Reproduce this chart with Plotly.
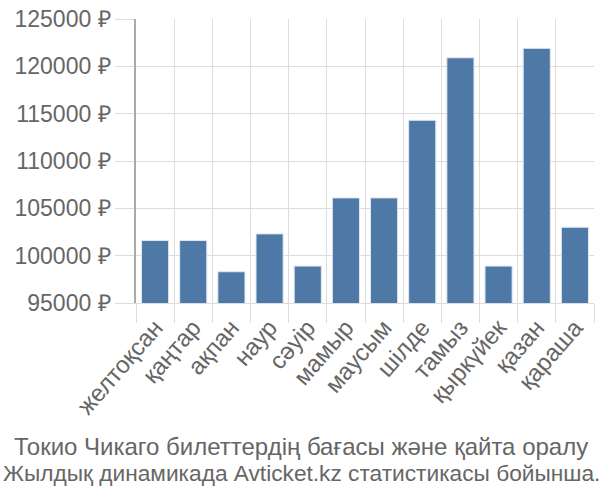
import plotly.graph_objects as go

months = ["желтоқсан", "қаңтар", "ақпан", "наур", "сәуір", "мамыр",
          "маусым", "шілде", "тамыз", "қыркүйек", "қазан", "қараша"]
prices = [101600, 101600, 98300, 102300, 98900, 106100,
          106100, 114300, 120900, 98900, 121900, 103000]
y_ticks = [95000, 100000, 105000, 110000, 115000, 120000, 125000]
y_labels = [f"{v} ₽" for v in y_ticks]
title_lines = ["Токио Чикаго билеттердің бағасы және қайта оралу",
               "Жылдық динамикада Avticket.kz статистикасы бойынша."]

FONT = "Liberation Sans"
GRID = "#dddddd"
TXT = "#666666"

fig = go.Figure(go.Bar(
    x=months, y=prices,
    marker=dict(color="#4e79a7", line=dict(color="#dfe6ef", width=1)),
))

PLOT_TOP, PLOT_BOTTOM, PLOT_LEFT, PLOT_W = 14, 303, 136, 458


def py(pix):
    return (PLOT_BOTTOM - pix) / (PLOT_BOTTOM - PLOT_TOP)


fig.update_layout(
    width=600, height=500,
    margin=dict(l=136, r=6, t=14, b=197, pad=0),
    paper_bgcolor="white", plot_bgcolor="white",
    bargap=0.29,
    showlegend=False,
    font=dict(family=FONT, color=TXT),
    xaxis=dict(
        type="category", tickson="boundaries",
        showgrid=True, gridcolor=GRID, gridwidth=1,
        ticks="outside", ticklen=19, tickcolor=GRID, tickwidth=1,
        tickangle=-49, tickfont=dict(size=24, color=TXT, family=FONT),
        showline=True, linecolor=GRID, linewidth=1,
        zeroline=False,
    ),
    yaxis=dict(
        range=[95000, 125000],
        tickvals=y_ticks, ticktext=y_labels,
        showgrid=True, gridcolor=GRID, gridwidth=1,
        ticks="outside", ticklen=19, tickcolor=GRID, tickwidth=1,
        tickfont=dict(size=23, color=TXT, family=FONT),
        showline=True, linecolor="#aaaaaa", linewidth=1.5,
        zeroline=False,
    ),
    annotations=[
        dict(text=title_lines[0],
             x=(301 - PLOT_LEFT) / PLOT_W, xref="paper", xanchor="center",
             y=py(449), yref="paper", yanchor="middle",
             showarrow=False, font=dict(size=24, color=TXT, family=FONT)),
        dict(text=title_lines[1],
             x=(301 - PLOT_LEFT) / PLOT_W, xref="paper", xanchor="center",
             y=py(476), yref="paper", yanchor="middle",
             showarrow=False, font=dict(size=22.7, color=TXT, family=FONT)),
    ],
)

fig.write_html("out.html")
